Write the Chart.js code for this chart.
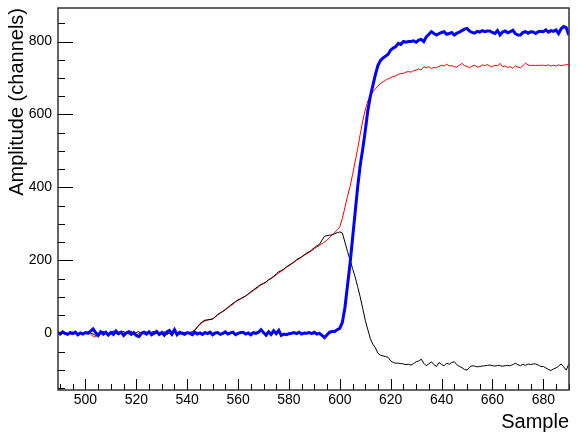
<!DOCTYPE html>
<html>
<head>
<meta charset="utf-8">
<script src="https://cdn.jsdelivr.net/npm/chart.js@4.4.1/dist/chart.umd.min.js"></script>
<style>
  html, body { margin: 0; padding: 0; background: #fff; }
</style>
</head>
<body>
<canvas id="waveChart" width="581" height="434"></canvas>
<script>
// Samples 489 .. 690, one value per sample
const firstSample = 489;

const blueValues = [
    3, -2, 4, 0, -3, 2, -1, 3, -4, 1,
    -2, 2, 0, 6, 12, 2, -6, 4, -2, 3,
    -5, 2, -3, 6, -1, 3, -6, 1, 4, -3,
    2, -6, -9, 0, 3, -2, 4, -4, 1, 5,
    -3, 2, -5, 4, 8, -2, 10, -4, 3, 0,
    -3, 2, 0, -4, 3, -2, 1, -3, 2, -1,
    3, -4, 1, 2, -3, 0, 4, -2, 1, 3,
    -4, 0, 2, 3, -2, 1, -4, 2, 0, 3,
    10, 2, -5, 4, -3, 7, -1, 8, -6, -2,
    -4, -1, 0, 2, -1, 3, -2, 1, 0, 2,
    -1, 3, -2, 0, -6, -12, -4, 3, 5, 5,
    10, 14, 30, 70, 130, 190, 260, 330, 400, 460,
    505, 555, 610, 650, 680, 710, 735, 748, 755, 760,
    765, 777, 782, 786, 795, 792, 800, 798, 800, 800,
    802, 798, 804, 806, 800, 813, 820, 827, 822, 818,
    822, 825, 827, 820, 822, 825, 818, 823, 826, 830,
    834, 836, 829, 825, 823, 828, 826, 830, 827, 829,
    829, 825, 822, 830, 818, 826, 829, 824, 827, 831,
    822, 818, 818, 825, 827, 823, 827, 826, 822, 827,
    828, 827, 832, 826, 830, 828, 832, 822, 835, 841,
    838, 818
];

const redValues = [
    1, 0, -1, 2, 0, -2, 1, 2, 0, -1,
    1, 0, 2, -3, -8, -10, -4, 1, 3, 0,
    -2, 1, 3, 2, -3, 0, 4, 1, -2, 2,
    -3, -6, 1, 3, -2, 0, 2, -1, -4, 1,
    3, 0, -2, -4, 1, 0, 2, -1, -3, 0,
    2, 1, 3, 3, 8, 16, 24, 30, 34, 36,
    38, 40, 44, 50, 55, 60, 64, 70, 75, 80,
    86, 90, 94, 98, 103, 107, 112, 117, 122, 127,
    133, 136, 140, 146, 150, 155, 160, 166, 170, 175,
    181, 185, 190, 195, 200, 204, 209, 214, 218, 222,
    227, 232, 237, 241, 246, 250, 256, 262, 270, 276,
    284, 292, 315, 345, 375, 402, 435, 470, 505, 545,
    582, 612, 637, 652, 662, 670, 678, 685, 690, 694,
    698, 701, 704, 706, 710, 712, 713, 716, 718, 716,
    720, 722, 725, 722, 731, 728, 731, 726, 729, 728,
    732, 735, 733, 738, 733, 734, 731, 730, 735, 740,
    734, 732, 728, 733, 735, 730, 731, 736, 734, 737,
    733, 731, 735, 733, 740, 731, 733, 729, 731, 727,
    733, 730, 728, 734, 741, 736, 734, 735, 734, 735,
    735, 735, 734, 736, 733, 735, 733, 736, 734, 735,
    737, 736
];

const blackValues = [
    2, -1, 1, 0, -2, 1, 3, 0, -1, 2,
    -3, 1, 4, 0, -2, -6, -3, 2, 5, 1,
    -2, 4, 6, 0, -4, 3, 5, -1, 4, 6,
    -3, 2, 5, -2, 1, 4, -1, 3, 5, 0,
    -4, 2, 4, -2, 1, -8, 5, 2, -2, 3,
    1, 0, 2, 4, 9, 18, 26, 32, 36, 37,
    38, 39, 45, 52, 56, 60, 66, 71, 77, 82,
    87, 92, 95, 99, 102, 108, 114, 119, 124, 129,
    134, 137, 141, 147, 151, 156, 163, 169, 172, 176,
    182, 187, 191, 196, 202, 206, 210, 215, 220, 224,
    229, 235, 240, 244, 256, 266, 268, 269, 270, 273,
    276, 278, 275, 250, 225, 201, 178, 155, 128, 100,
    68, 36, 10, -15, -30, -40, -55, -60, -62, -64,
    -66, -76, -80, -82, -82, -83, -84, -86, -85, -87,
    -83, -78, -76, -71, -82, -89, -84, -78, -86, -91,
    -80, -86, -89, -82, -85, -80, -78, -86, -91, -94,
    -99, -101, -93, -89, -90, -92, -91, -90, -89, -88,
    -87, -89, -90, -88, -89, -90, -89, -88, -89, -86,
    -82, -86, -89, -85, -88, -84, -86, -84, -84, -87,
    -91, -91, -95, -99, -102, -98, -95, -90, -84, -92,
    -101, -85
];

const xRange = [489.2, 690.1];
const yRange = [-155.5, 892];
const xStep = 20, xMinorStep = 5;
const yStep = 200, yMinorStep = 50;

const fontFamily = '"Liberation Sans", Arial, Helvetica, sans-serif';

function toPoints(values) {
    return values.map((v, i) => ({ x: firstSample + i, y: v }));
}

// frame and inward ticks, ROOT style
const frameTicks = {
    id: 'frameTicks',
    afterDatasetsDraw(chart) {
        const { ctx, chartArea: a, scales: { x, y } } = chart;
        ctx.save();
        ctx.strokeStyle = '#000';
        ctx.lineWidth = 1;
        ctx.beginPath();
        for (let v = Math.ceil(x.min / xMinorStep) * xMinorStep; v <= x.max; v += xMinorStep) {
            const px = Math.round(x.getPixelForValue(v)) + 0.5;
            const len = v % xStep === 0 ? 11 : 6;
            ctx.moveTo(px, a.bottom);
            ctx.lineTo(px, a.bottom - len);
        }
        for (let v = Math.ceil(y.min / yMinorStep) * yMinorStep; v <= y.max; v += yMinorStep) {
            const py = Math.round(y.getPixelForValue(v)) + 0.5;
            const len = v % yStep === 0 ? 15 : 7;
            ctx.moveTo(a.left, py);
            ctx.lineTo(a.left + len, py);
        }
        ctx.stroke();
        ctx.lineWidth = 1.5;
        ctx.strokeStyle = '#333';
        ctx.strokeRect(a.left, a.top, a.right - a.left, a.bottom - a.top);
        ctx.restore();
    }
};

const ctx = document.getElementById('waveChart').getContext('2d');
new Chart(ctx, {
    type: 'line',
    data: {
        datasets: [
            { data: toPoints(blueValues), borderColor: '#0000ff', borderWidth: 3 },
            { data: toPoints(blackValues), borderColor: '#000000', borderWidth: 1 },
            { data: toPoints(redValues), borderColor: '#ff0000', borderWidth: 1 }
        ]
    },
    options: {
        responsive: false,
        animation: false,
        devicePixelRatio: 1,
        elements: { point: { radius: 0 }, line: { tension: 0 } },
        layout: { padding: { top: 8, right: 12, left: 0, bottom: 0 } },
        plugins: { legend: { display: false }, tooltip: { enabled: false } },
        scales: {
            x: {
                type: 'linear',
                min: xRange[0],
                max: xRange[1],
                grid: { display: false, drawTicks: false },
                border: { display: false },
                ticks: {
                    stepSize: xStep,
                    includeBounds: false,
                    autoSkip: false,
                    maxRotation: 0,
                    padding: 2,
                    color: '#000',
                    font: { family: fontFamily, size: 14 }
                },
                title: {
                    display: true,
                    text: 'Sample',
                    align: 'end',
                    color: '#000',
                    padding: 0,
                    font: { family: fontFamily, size: 20 }
                },
                afterFit: s => {
                    s.height = 44;
                    s.paddingLeft = 0;
                    s.paddingRight = 0;
                }
            },
            y: {
                min: yRange[0],
                max: yRange[1],
                grid: { display: false, drawTicks: false },
                border: { display: false },
                ticks: {
                    stepSize: yStep,
                    includeBounds: false,
                    padding: 6,
                    color: '#000',
                    font: { family: fontFamily, size: 14 }
                },
                title: {
                    display: true,
                    text: 'Amplitude (channels)',
                    align: 'end',
                    color: '#000',
                    padding: { top: 5 },
                    font: { family: fontFamily, size: 20 }
                },
                afterFit: s => {
                    s.width = 58;
                    s.paddingTop = 0;
                    s.paddingBottom = 0;
                }
            }
        }
    },
    plugins: [frameTicks]
});
</script>
</body>
</html>
